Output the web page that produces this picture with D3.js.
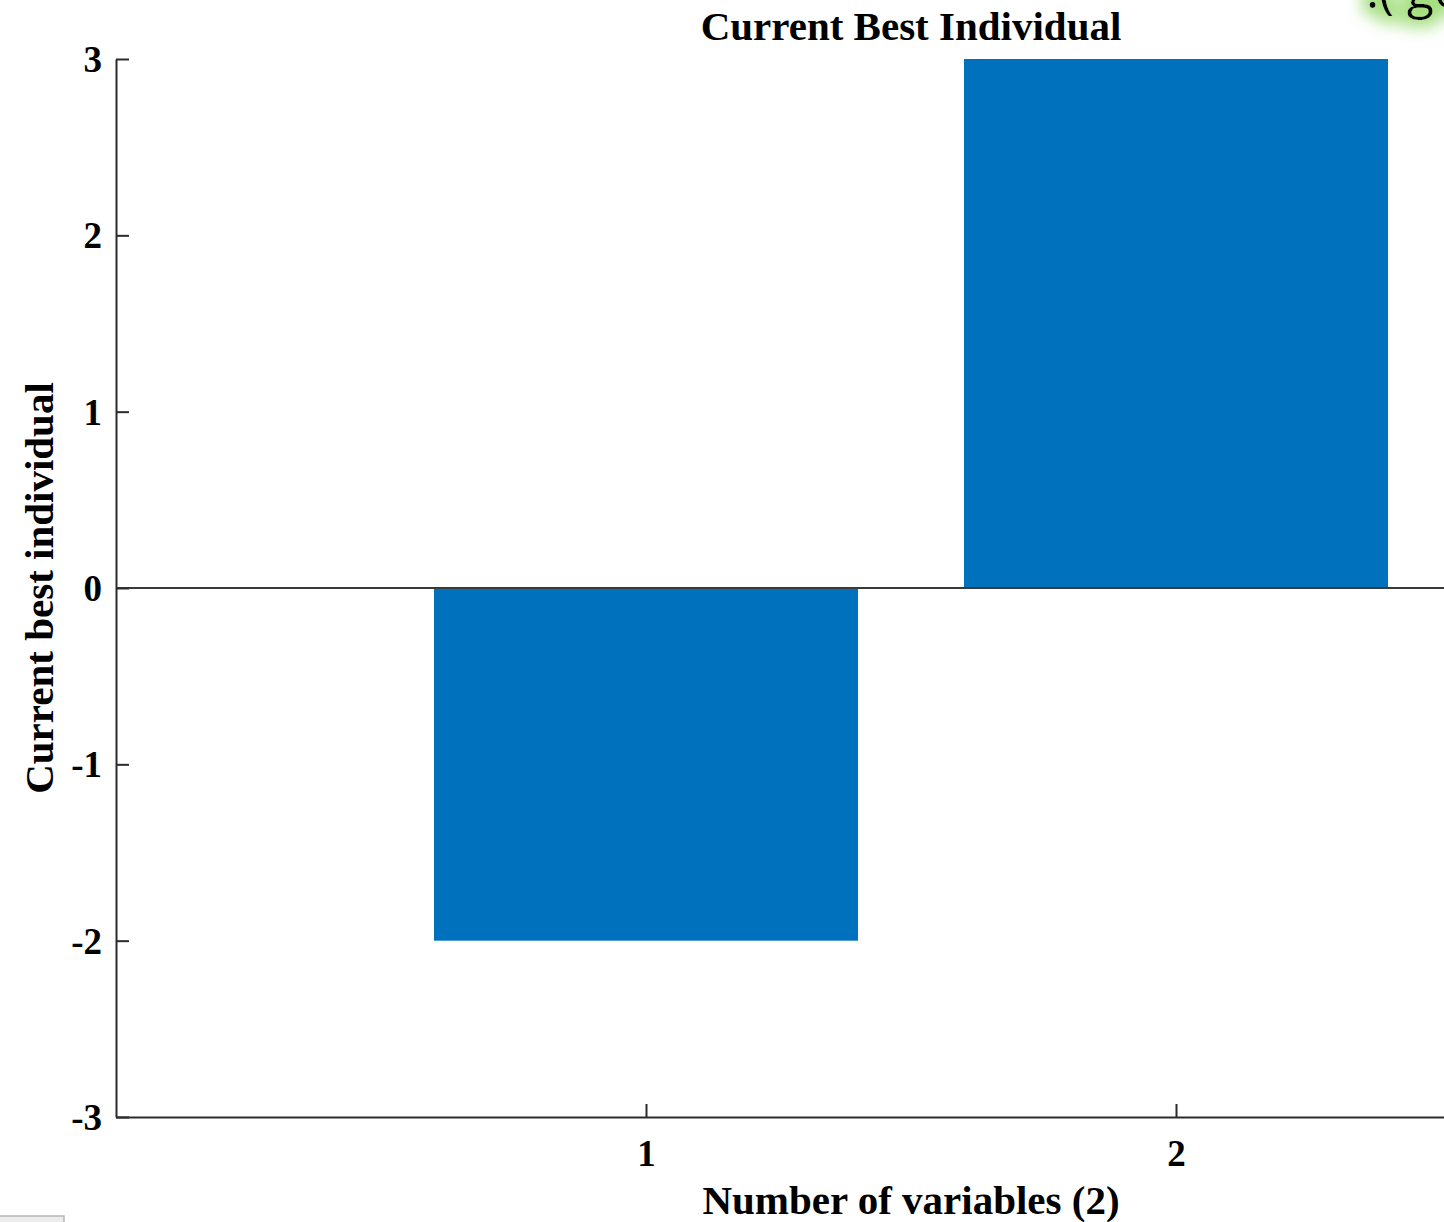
<!DOCTYPE html>
<html>
<head>
<meta charset="utf-8">
<script src="https://cdn.jsdelivr.net/npm/d3@7"></script>
<style>
  html, body { margin: 0; padding: 0; background: #fff; overflow: hidden; }
  svg { display: block; }
  text { font-family: "Liberation Serif", "Times New Roman", serif; font-weight: bold; fill: #000; }
</style>
</head>
<body>
<script>
// Data
const variables = [1, 2];
const bestValues = [-2, 3];
const yTicks = [-3, -2, -1, 0, 1, 2, 3];
const xTicks = [1, 2];
const titleText = "Current Best Individual";
const xLabel = "Number of variables (2)";
const yLabel = "Current best individual";
const cornerNote = ":( go";

const W = 1444, H = 1222;
const svg = d3.select("body").append("svg").attr("width", W).attr("height", H);

// Axes box: x runs 0..3 but the right part of the figure is clipped by the window
const x = d3.scaleLinear().domain([0, 3]).range([116, 1706]);
const y = d3.scaleLinear().domain([-3, 3]).range([1117, 59]);
const barWidth = 0.8;
const axisColor = "#2b2b2b";
const plainInt = d => String(d);   // ASCII hyphen for negatives

// Bars
svg.append("g").selectAll("rect")
  .data(variables.map((v, i) => ({ v, val: bestValues[i] })))
  .join("rect")
  .attr("x", d => x(d.v - barWidth / 2))
  .attr("width", d => x(d.v + barWidth / 2) - x(d.v - barWidth / 2))
  .attr("y", d => y(Math.max(0, d.val)))
  .attr("height", d => Math.abs(y(d.val) - y(0)))
  .attr("fill", "#0072BD");

// Baseline at zero
svg.append("line")
  .attr("x1", x(0)).attr("x2", x(3))
  .attr("y1", y(0)).attr("y2", y(0))
  .attr("stroke", "#3a3a3a").attr("stroke-width", 2);

// Left axis, ticks pointing inward
const yAxis = svg.append("g")
  .attr("transform", `translate(${x(0)},0)`)
  .call(d3.axisLeft(y).tickValues(yTicks).tickFormat(plainInt)
    .tickSizeInner(-13).tickSizeOuter(0).tickPadding(14));
yAxis.select(".domain").attr("stroke", axisColor).attr("stroke-width", 2);
yAxis.selectAll(".tick line").attr("stroke", axisColor).attr("stroke-width", 2);
yAxis.selectAll(".tick text")
  .style("font-family", '"Liberation Serif", serif').style("font-weight", "bold")
  .style("font-size", "37px").attr("fill", "#000").attr("dy", "0.34em");

// Bottom axis, ticks pointing inward
const xAxis = svg.append("g")
  .attr("transform", `translate(0,${y(-3)})`)
  .call(d3.axisBottom(x).tickValues(xTicks).tickFormat(plainInt)
    .tickSizeInner(-13).tickSizeOuter(0).tickPadding(23));
xAxis.select(".domain").attr("stroke", axisColor).attr("stroke-width", 2);
xAxis.selectAll(".tick line").attr("stroke", axisColor).attr("stroke-width", 2);
xAxis.selectAll(".tick text")
  .style("font-family", '"Liberation Serif", serif').style("font-weight", "bold")
  .style("font-size", "37px").attr("fill", "#000");

const cx = (x(0) + x(3)) / 2;
const cy = (y(-3) + y(3)) / 2;

// Title
svg.append("text")
  .attr("x", cx).attr("y", 40)
  .attr("text-anchor", "middle")
  .style("font-size", "41px")
  .text(titleText);

// Axis labels
svg.append("text")
  .attr("x", cx).attr("y", 1214)
  .attr("text-anchor", "middle")
  .style("font-size", "41px")
  .text(xLabel);

svg.append("text")
  .attr("transform", `translate(53,${cy}) rotate(-90)`)
  .attr("text-anchor", "middle")
  .style("font-size", "41px")
  .text(yLabel);

// Glowing note in the top-right corner
const defs = svg.append("defs");
const glow = defs.append("filter").attr("id", "greenGlow")
  .attr("x", "-50%").attr("y", "-150%").attr("width", "200%").attr("height", "400%");
glow.append("feMorphology").attr("in", "SourceAlpha").attr("operator", "dilate").attr("radius", 7).attr("result", "fat");
glow.append("feGaussianBlur").attr("in", "fat").attr("stdDeviation", 8).attr("result", "blur");
glow.append("feFlood").attr("flood-color", "#9fdd78").attr("flood-opacity", 0.95);
glow.append("feComposite").attr("in2", "blur").attr("operator", "in").attr("result", "glowc");
const merge = glow.append("feMerge");
merge.append("feMergeNode").attr("in", "glowc");
merge.append("feMergeNode").attr("in", "SourceGraphic");

svg.append("text")
  .attr("x", 1366).attr("y", 8)
  .attr("filter", "url(#greenGlow)")
  .style("font-family", '"Open Sans", sans-serif')
  .style("font-weight", "normal")
  .style("font-size", "50px")
  .text(cornerNote);

// Small window control remnant at the bottom-left edge
svg.append("rect")
  .attr("x", -2).attr("y", 1216).attr("width", 66).attr("height", 10)
  .attr("fill", "#ececec").attr("stroke", "#b5b5b5").attr("stroke-width", 1.5);
</script>
</body>
</html>
